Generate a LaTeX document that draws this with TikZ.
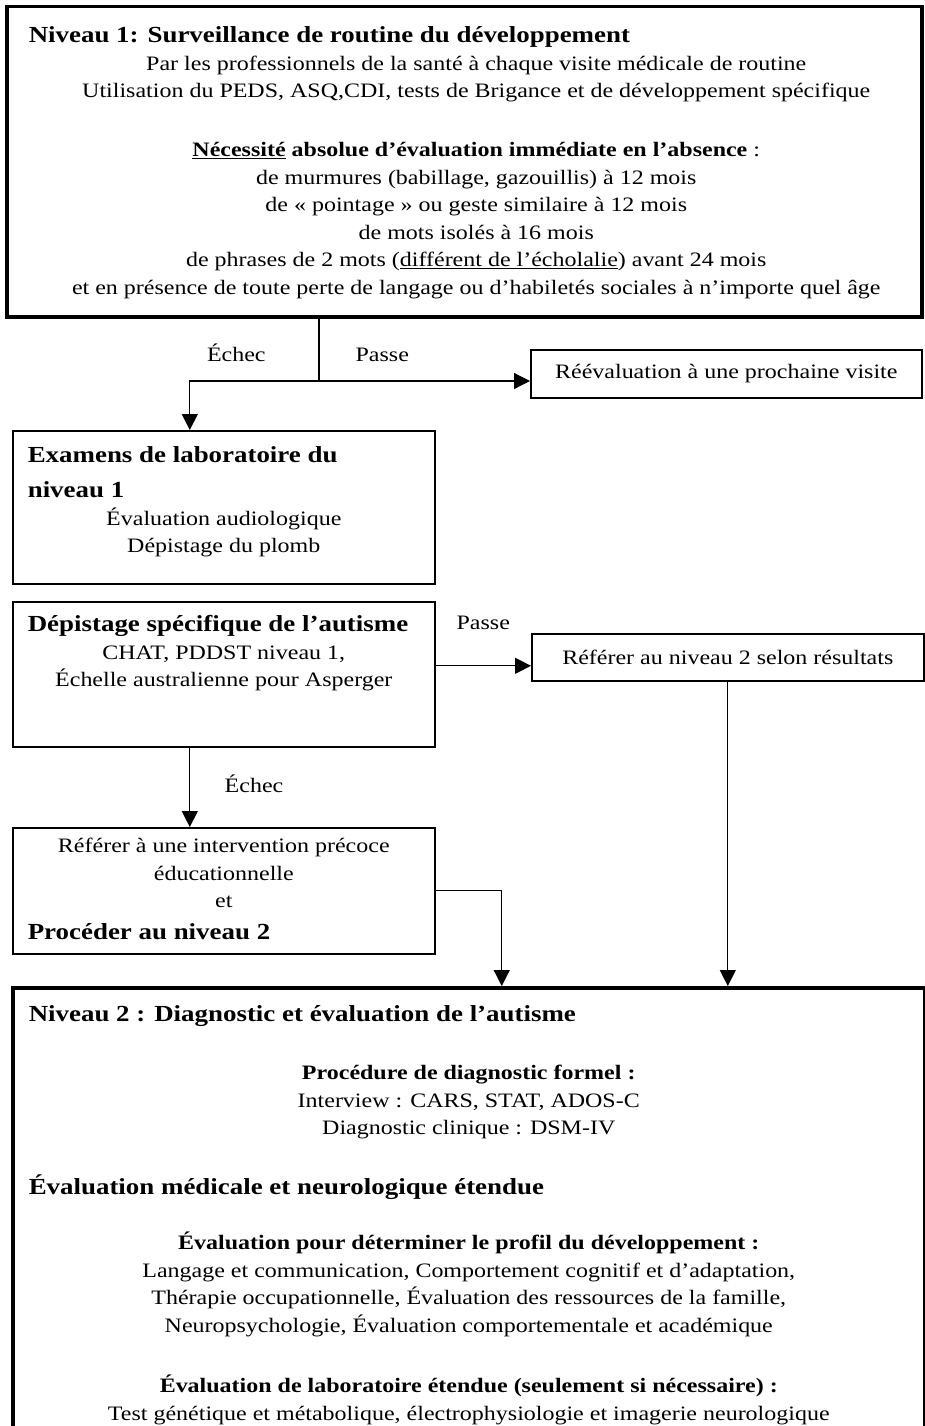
\documentclass[tikz,border=0pt]{standalone}
\usepackage{fontspec}
\setmainfont{Liberation Serif}[FakeStretch=1.17]
\usetikzlibrary{arrows.meta,positioning}

\begin{document}
\begin{tikzpicture}[
        x=1pt, y=-1pt,
        font=\fontsize{20.5}{27.5}\selectfont,
        box/.style={
            draw, line width=1.6pt,
            inner sep=0pt, anchor=north west
        },
        bigbox/.style={box, line width=3.5pt},
        smallbox/.style={box, align=center},
        line/.style={line width=1.2pt},
        arrow/.style={line, -{Triangle[length=16pt,width=16pt]}}
    ]
    \useasboundingbox (0,0) rectangle (925,1426);

    % Level 1 screening
    \node[bigbox] (niveau1) at (5,5) {\parbox[c][310pt][t]{915pt}{%
        \rule{0pt}{36pt}\hspace*{22pt}{\fontsize{23}{27.5}\selectfont\bfseries Niveau 1: Surveillance de routine du développement}\par
        \centering\leftskip=24pt plus 1fil
        Par les professionnels de la santé à chaque visite médicale de routine\\
        Utilisation du PEDS, ASQ,CDI, tests de Brigance et de développement spécifique\\[31.5pt]
        \textbf{\underline{Nécessité} absolue d'évaluation immédiate en l’absence} :\\
        de murmures (babillage, gazouillis) à 12 mois\\
        de « pointage » ou geste similaire à 12 mois\\
        de mots isolés à 16 mois\\
        de phrases de 2 mots (\underline{différent de l’écholalie}) avant 24 mois\\
        et en présence de toute perte de langage ou d’habiletés sociales à n’importe quel âge\par}};

    \node[smallbox, minimum width=391pt, minimum height=48pt] (reeval) at (530,349)
        {Réévaluation à une prochaine visite};

    \node[box] (examens) at (12,430) {\parbox[c][153pt][t]{422pt}{%
        {\leftskip=15pt\fontsize{23}{27.5}\selectfont\bfseries\rule{0pt}{32pt}Examens de laboratoire du\\[7.5pt]niveau 1\par}
        \centering
        Évaluation audiologique\\
        Dépistage du plomb\par}};

    \node[box] (depistage) at (12,601) {\parbox[c][145pt][t]{422pt}{%
        {\leftskip=15pt\fontsize{23}{27.5}\selectfont\bfseries\rule{0pt}{30pt}Dépistage spécifique de l'autisme\par}
        \centering
        CHAT, PDDST niveau 1,\\
        Échelle australienne pour Asperger\par}};

    \node[smallbox, minimum width=392pt, minimum height=47pt] (referer) at (531,633)
        {Référer au niveau 2 selon résultats};

    \node[box] (intervention) at (12,827) {\parbox[c][126pt][t]{422pt}{%
        {\centering\rule{0pt}{25pt}Référer à une intervention précoce\\
        éducationnelle\\
        et\par}
        \vspace{4.5pt}
        {\leftskip=15pt\fontsize{23}{27.5}\selectfont\bfseries Procéder au niveau 2\par}}};

    % Level 2 diagnosis
    \node[bigbox] (niveau2) at (11,986) {\parbox[c][470pt][t]{912pt}{%
        {\leftskip=16pt\fontsize{23}{27.5}\selectfont\bfseries\rule{0pt}{34pt}Niveau 2 : Diagnostic et évaluation de l'autisme\par}
        \vspace{30.5pt}
        {\centering\textbf{Procédure de diagnostic formel :}\\
        Interview : CARS, STAT, ADOS-C\\
        Diagnostic clinique : DSM-IV\par}
        \vspace{32.5pt}
        {\leftskip=16pt\fontsize{23}{27.5}\selectfont\bfseries Évaluation médicale et neurologique étendue\par}
        \vspace{27.5pt}
        {\centering\textbf{Évaluation pour déterminer le profil du développement :}\\
        Langage et communication, Comportement cognitif et d’adaptation,\\
        Thérapie occupationnelle, Évaluation des ressources de la famille,\\
        Neuropsychologie, Évaluation comportementale et académique\par}
        \vspace{33pt}
        {\centering\textbf{Évaluation de laboratoire étendue (seulement si nécessaire) :}\\
        Test génétique et métabolique, électrophysiologie et imagerie neurologique\par}}};

    % Arrows
    \coordinate (split) at (319,381);
    \draw[line] (niveau1.south -| split) -- (split);
    \draw[arrow] (split) -| node[pos=0.32, above=15pt] {Échec} ([xshift=-34pt]examens.north);
    \draw[arrow] (split) -- node[pos=0.3, above=15pt] {Passe} (split -| reeval.west);

    \draw[arrow] ([yshift=8.5pt]depistage.east) -- node[midway, above=32pt] {Passe}
        ([yshift=8.5pt]depistage.east -| referer.west);
    \draw[arrow] ([xshift=-34pt]depistage.south) -- node[pos=0.45, right=31pt] {Échec}
        ([xshift=-34pt]intervention.north);

    \draw[arrow] (intervention.east) -| ([xshift=33pt]niveau2.north);
    \draw[arrow] (referer.south) -- (referer.south |- niveau2.north);

\end{tikzpicture}
\end{document}
